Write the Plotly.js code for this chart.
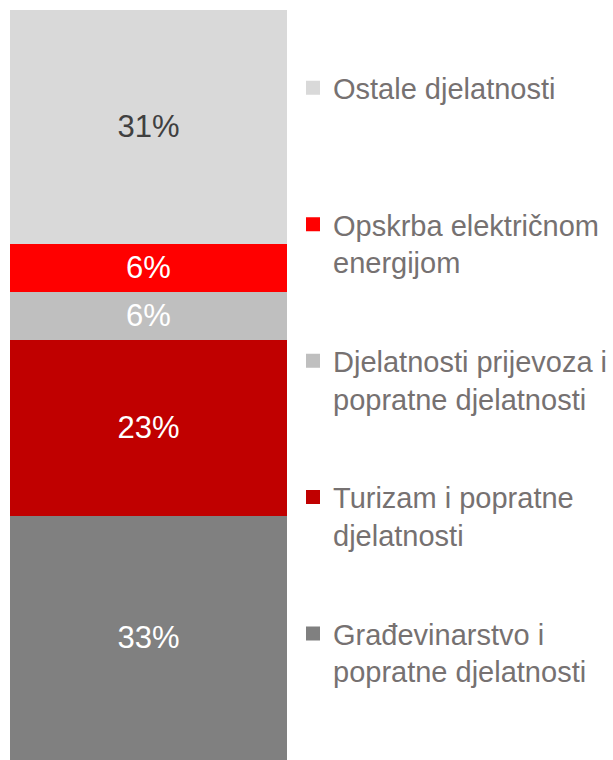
<!DOCTYPE html>
<html>
<head>
<meta charset="utf-8">
<script src="https://cdn.plot.ly/plotly-3.0.1.min.js"></script>
<style>html,body{margin:0;padding:0;background:#fff;}#chart{width:613px;height:760px;}</style>
</head>
<body>
<div id="chart"></div>
<script>
// Data (bottom to top of the stacked bar)
var category = [""];
var seriesNames = [
  "Građevinarstvo i<br>popratne djelatnosti",
  "Turizam i popratne<br>djelatnosti",
  "Djelatnosti prijevoza i<br>popratne djelatnosti",
  "Opskrba električnom<br>energijom",
  "Ostale djelatnosti<br> "
];
var seriesValues = [32.7, 23.4, 6.4, 6.4, 31.1];
var seriesColors = ["#808080", "#C00000", "#BFBFBF", "#FF0000", "#D9D9D9"];
var labelColors = ["#FFFFFF", "#FFFFFF", "#FFFFFF", "#FFFFFF", "#404040"];

var traces = seriesNames.map(function (name, i) {
  return {
    type: "bar",
    name: name,
    x: category,
    y: [seriesValues[i]],
    legendgroup: "g" + i,
    legendrank: 1000 - i,
    marker: { color: seriesColors[i], line: { width: 2, color: seriesColors[i] } },
    text: [Math.round(seriesValues[i]) + "%"],
    texttemplate: "%{text}",
    textposition: "inside",
    insidetextanchor: "middle",
    textangle: 0,
    textfont: { family: "Liberation Sans, Arial, sans-serif", size: 31, color: labelColors[i] },
    hoverinfo: "none"
  };
});

var layout = {
  width: 613,
  height: 760,
  margin: { l: 10, r: 326, t: 10, b: 0 },
  barmode: "stack",
  bargap: 0,
  paper_bgcolor: "#FFFFFF",
  plot_bgcolor: "#FFFFFF",
  showlegend: true,
  uniformtext: { mode: false },
  xaxis: { visible: false, range: [-0.5, 0.5], fixedrange: true },
  yaxis: { visible: false, range: [0, 100], fixedrange: true },
  legend: {
    x: 1.022, xanchor: "left",
    y: 0.93, yanchor: "top",
    traceorder: "grouped",
    tracegroupgap: 58,
    valign: "top",
    font: { family: "Liberation Sans, Arial, sans-serif", size: 29, color: "#767171" },
    bgcolor: "rgba(0,0,0,0)",
    itemclick: false, itemdoubleclick: false
  }
};

Plotly.newPlot("chart", traces, layout, { displayModeBar: false, staticPlot: true });
</script>
</body>
</html>
